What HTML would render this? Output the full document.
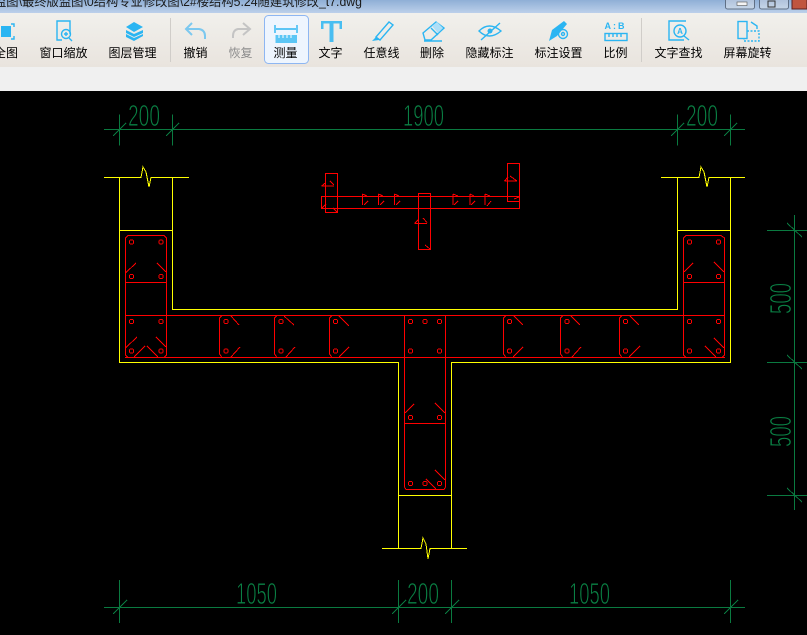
<!DOCTYPE html>
<html><head><meta charset="utf-8"><style>
html,body{margin:0;padding:0;background:#000}
body{width:807px;height:635px;overflow:hidden;position:relative}
svg{position:absolute;left:0;top:0}
.l{font:12px "Liberation Sans","Noto Sans CJK SC",sans-serif;fill:#000;text-anchor:middle}
.d{font:31px "Liberation Sans",sans-serif;fill:#0a8044;stroke:#000;stroke-width:.9}
.y{stroke:#ff0;stroke-width:1;fill:none;shape-rendering:crispEdges}
.r{stroke:#f00;stroke-width:1;fill:none;shape-rendering:crispEdges}
.g{stroke:#0a7a40;stroke-width:1;fill:none;shape-rendering:crispEdges}
.i{stroke:#2bb5f2;stroke-width:1.4;fill:none}
.f{fill:#2bb5f2}
</style></head><body>
<svg width="807" height="635" viewBox="0 0 807 635" xmlns="http://www.w3.org/2000/svg">
<defs>
<linearGradient id="t" x1="0" x2="0" y1="0" y2="1"><stop offset="0" stop-color="#8fafd6"/><stop offset="1" stop-color="#bcd0ea"/></linearGradient>
<linearGradient id="b" x1="0" x2="0" y1="0" y2="1"><stop offset="0" stop-color="#f1f0ec"/><stop offset="1" stop-color="#e9e4de"/></linearGradient>
<linearGradient id="w" x1="0" x2="0" y1="0" y2="1"><stop offset="0" stop-color="#a9bdd8"/><stop offset="1" stop-color="#c7d6e8"/></linearGradient>
<g id="tick"><path class="g" d="M0.5 -15V16M-6 6.5L7 -6.5"/></g>
<g id="vtick"><path class="g" d="M-27 0.5H13M-7 -7L8 7"/></g>
</defs>

<!-- window chrome -->
<rect width="807" height="13" fill="url(#t)"/>
<text x="-6" y="6" textLength="368" lengthAdjust="spacingAndGlyphs" style="font:13px 'Liberation Sans','Noto Sans CJK SC',sans-serif;fill:#1a1a1a">监图\最终版监图\0结构专业修改图\2#楼结构5.24随建筑修改_t7.dwg</text>
<rect x="725.500" y="-3" width="29" height="12" rx="2" fill="url(#w)" stroke="#5f6f85"/>
<rect x="737" y="2" width="10" height="3.500" fill="#f4f4f4" stroke="#555" stroke-width=".6"/>
<rect x="759.500" y="-3" width="29" height="12" rx="2" fill="url(#w)" stroke="#5f6f85"/>
<rect x="768" y="1" width="7" height="6" fill="none" stroke="#333"/>
<rect x="792" y="-3" width="15" height="12" fill="#c0553f" stroke="#5a2020"/>
<rect y="13" width="807" height="54" fill="url(#b)"/>
<rect y="67" width="807" height="24" fill="#f0f0f0"/>
<rect y="91" width="807" height="544" fill="#000"/>
<rect x="170" y="18" width="1" height="44" fill="#d0cdc9"/>
<rect x="641" y="18" width="1" height="44" fill="#d0cdc9"/>
<rect x="264.500" y="15.500" width="44" height="48" rx="4" fill="#eef5fe" stroke="#8db6f2"/>

<!-- toolbar labels -->
<text class="l" x="6" y="57">全图</text>
<text class="l" x="63.500" y="57">窗口缩放</text>
<text class="l" x="132.500" y="57">图层管理</text>
<text class="l" x="195.500" y="57">撤销</text>
<text class="l" x="240.500" y="57" style="fill:#8c8c8c">恢复</text>
<text class="l" x="285.500" y="57">测量</text>
<text class="l" x="330.500" y="57">文字</text>
<text class="l" x="381.500" y="57">任意线</text>
<text class="l" x="432" y="57">删除</text>
<text class="l" x="489.500" y="57">隐藏标注</text>
<text class="l" x="558.500" y="57">标注设置</text>
<text class="l" x="615.500" y="57">比例</text>
<text class="l" x="678.500" y="57">文字查找</text>
<text class="l" x="747.500" y="57">屏幕旋转</text>

<!-- toolbar icons -->
<path class="i" d="M0 24H-1M11 24H14V27M14 36V39H11M0 39H-1"/>
<rect class="f" x="1" y="26" width="10" height="11"/>
<path class="i" d="M70 34V21H57V40H62"/><circle class="i" cx="66" cy="34" r="4.500"/><path class="i" d="M69 38L72 41M64 34H68M66 32V36"/>
<path class="f" d="M134 22L143 27L134 32L126 27ZM126 30L134 34L143 30V33L134 37L126 33ZM126 34L134 38L143 34V36L134 41L126 37Z"/>
<path d="M192 23L186 29L192 35M186 29H199Q205 30 205 36V39" stroke="#7cc8ef" stroke-width="2" fill="none"/>
<path d="M243 23L250 29L243 35M250 29H238Q233 30 233 36V38" stroke="#c4c4c4" stroke-width="2" fill="none"/>
<path class="i" d="M275 25V33M297 25V33M276 29H296"/>
<rect class="f" x="275.500" y="35" width="21.500" height="8" opacity=".75"/>
<path d="M279 35V38M283 35V38M287 35V38M291 35V38" stroke="#fff" stroke-width="1"/>
<path class="f" d="M321 21H342V29H339.500V23.500H333.500V42H329.500V23.500H323.500V29H321Z" opacity=".85"/>
<path class="i" d="M376 37L389 22L393 25L380 40Z"/><path class="f" d="M372 41L376 37L379 40Z"/>
<path class="i" d="M423 33L436 22L444 28L431 40H425ZM431 28L438 35M424 41H442"/><path d="M432 26L437 22L443 28L438 33Z" fill="#aedff8"/>
<path class="i" d="M479 31Q489 21 501 31Q489 41 479 31ZM481 40L500 23"/><circle class="f" cx="490" cy="31" r="2.500"/>
<path class="f" d="M549 41L552 30L564 21L567 24L557 36Z"/>
<circle class="i" cx="563" cy="34" r="4.500"/><circle class="i" cx="563" cy="34" r="1.500"/>
<text x="615.500" y="29" style="font:bold 9px 'Liberation Sans',sans-serif;fill:#2bb5f2;text-anchor:middle;letter-spacing:2px">A:B</text>
<rect x="605" y="33.500" width="22" height="7" class="i"/>
<path class="i" stroke-width="1" d="M609 34V37M613 34V37M617 34V37M621 34V37"/>
<path class="i" d="M686 21H669V40H684"/><circle class="i" cx="680" cy="31" r="6"/><path class="i" d="M684 36L689 40"/>
<text x="680" y="34" style="font:bold 8px 'Liberation Sans',sans-serif;fill:#2bb5f2;text-anchor:middle">A</text>
<rect class="i" x="738" y="21.500" width="9" height="17"/>
<path class="i" stroke-dasharray="2 1.500" d="M747 31H759V41H744V39"/>
<path class="i" d="M751 22L757 26V29"/>

<!-- dimensions -->
<path class="g" d="M104 129.500H745M104 607.500H745M794.500 215V510"/>
<use href="#tick" x="119" y="129.500"/><use href="#tick" x="172" y="129.500"/><use href="#tick" x="677" y="129.500"/><use href="#tick" x="730" y="129.500"/>
<path class="g" d="M119.500 580V623M398.500 580V623M451.500 580V623M730.500 580V623M113 614L127 600M392 614L406 600M445 614L459 600M724 614L738 600"/>
<use href="#vtick" x="794" y="230"/><use href="#vtick" x="794" y="362"/><use href="#vtick" x="794" y="495"/>
<text class="d" x="128" y="126" textLength="32" lengthAdjust="spacingAndGlyphs">200</text>
<text class="d" x="403" y="126" textLength="41" lengthAdjust="spacingAndGlyphs">1900</text>
<text class="d" x="686" y="126" textLength="32" lengthAdjust="spacingAndGlyphs">200</text>
<text class="d" x="236" y="604" textLength="41" lengthAdjust="spacingAndGlyphs">1050</text>
<text class="d" x="407" y="604" textLength="32" lengthAdjust="spacingAndGlyphs">200</text>
<text class="d" x="569" y="604" textLength="41" lengthAdjust="spacingAndGlyphs">1050</text>
<text class="d" transform="translate(791 314) rotate(-90)" textLength="31" lengthAdjust="spacingAndGlyphs">500</text>
<text class="d" transform="translate(791 447) rotate(-90)" textLength="31" lengthAdjust="spacingAndGlyphs">500</text>

<!-- concrete outline -->
<g class="y">
<path d="M104 177.500H141L143 167L146 172L149 187L151 177.500H189"/>
<path d="M661 177.500H699L701 167L704 172L707 187L709 177.500H745"/>
<path d="M119.500 177V362.500H398.500V548M172.500 177V309.500H677.500V177M730.500 177V362.500H451.500V548"/>
<path d="M119 230.500H173M677 230.500H731M398 495.500H452"/>
<path d="M382 548.500H421L423 538L426 544L428 559L430 548.500H467"/>
</g>

<!-- rebar -->
<g class="r">
<path d="M125 315.500H725M125 357.500H725"/>
<path d="M125.500 355V238L128 235.500H164L166.500 238V355L164 357.500H128L125.500 355M126 282.500H166"/>
<path d="M683.500 355V238L686 235.500H721L724.500 238V355L722 357.500H686L683.500 355M684 282.500H724"/>
<path d="M404.500 315V487L406 489.500H444L445.500 487V315M405 423.500H445"/>
<path d="M222 315.500L219.500 318V354L222 357.500M277 315.500L274.500 318V354L277 357.500M332 315.500L329.500 318V354L332 357.500"/>
<path d="M506 315.500L503.500 318V354L506 357.500M563 315.500L560.500 318V354L563 357.500M622 315.500L619.500 318V354L622 357.500"/>
<!-- ties -->
<path d="M126 272.500L136 263M157 263L166 272M126 347.500L137 337M156 337L166 347M134 357L145 346M147 346L158 357"/>
<path d="M231 316L239 325M231 357L240 347M284 316L294 325M286 357L295 347M339 316L349 326M339 357L349 347"/>
<path d="M514 316L523 325M513 357L523 347M571 316L580 325M572 357L581 347M630 316L639 325M629 357L640 346"/>
<path d="M684 272L693 263M714 262L724 272M705 346L716 357M714 338L724 348"/>
<path d="M405 413L414 404M435 403L445 413M426 479L436 489M435 470L445 480"/>
<!-- bars -->
<g id="bars">
<circle cx="131.500" cy="242" r="2.200"/><circle cx="161" cy="242" r="2.200"/><circle cx="131.500" cy="276.500" r="2.200"/><circle cx="161" cy="276.500" r="2.200"/>
<circle cx="131.500" cy="321.500" r="2.200"/><circle cx="161" cy="321.500" r="2.200"/><circle cx="131.500" cy="351" r="2.200"/><circle cx="161" cy="351" r="2.200"/>
<circle cx="226" cy="321.500" r="2.200"/><circle cx="226" cy="351" r="2.200"/><circle cx="281" cy="321.500" r="2.200"/><circle cx="281" cy="351" r="2.200"/><circle cx="335.500" cy="321.500" r="2.200"/><circle cx="335.500" cy="351" r="2.200"/>
<circle cx="509.500" cy="321.500" r="2.200"/><circle cx="509.500" cy="351" r="2.200"/><circle cx="567" cy="321.500" r="2.200"/><circle cx="567" cy="351" r="2.200"/><circle cx="625.500" cy="321.500" r="2.200"/><circle cx="625.500" cy="351" r="2.200"/>
<circle cx="689.500" cy="242" r="2.200"/><circle cx="718.500" cy="242" r="2.200"/><circle cx="689.500" cy="276.500" r="2.200"/><circle cx="718.500" cy="276.500" r="2.200"/>
<circle cx="689.500" cy="321.500" r="2.200"/><circle cx="718.500" cy="321.500" r="2.200"/><circle cx="689.500" cy="351" r="2.200"/><circle cx="718.500" cy="351" r="2.200"/>
<circle cx="410.500" cy="321.500" r="2.200"/><circle cx="425" cy="321.500" r="2.200"/><circle cx="439.500" cy="321.500" r="2.200"/><circle cx="410.500" cy="351" r="2.200"/><circle cx="439.500" cy="351" r="2.200"/>
<circle cx="410.500" cy="417.500" r="2.200"/><circle cx="439.500" cy="417.500" r="2.200"/><circle cx="410.500" cy="483.500" r="2.200"/><circle cx="425" cy="483.500" r="2.200"/><circle cx="439.500" cy="483.500" r="2.200"/>
</g>
<!-- small section -->
<path d="M321.500 196.500H519.500V208.500H321.500ZM325.500 173.500H337.500V212.500H325.500ZM507.500 163.500H519.500V201.500H507.500ZM418.500 193.500H430.500V249.500H418.500Z"/>
<path d="M321.500 186L326 182.500M321.500 186H334M330 181L334 185"/>
<path d="M504.500 181H517M504.500 181L508 177M510 176L517 181"/>
<path d="M414.500 223.500H427M414.500 223.500L418 220M423 218L427 222.500"/>
<path d="M362.500 194V205M362.500 194L367 196M364 205L368 201M378.500 194V205M378.500 194L383 196M380 205L384 201M394.500 194V205M394.500 194L399 196M396 205L400 201"/>
<path d="M453 194V205M453 194L458 196M454 205L458 201M470 194V205M470 194L474 196M471 205L475 201M485 194V205M485 194L490 196M487 206L491 201"/>
<path d="M322 208L326 204M333 208L337 212M514 199L519 197M425 245L430 249"/>
</g>
</svg>
</body></html>
